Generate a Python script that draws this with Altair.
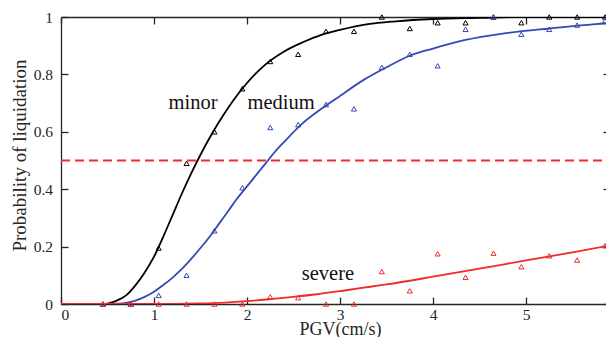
import altair as alt
import pandas as pd

# ---- observed points (triangles) ----
pgv_pts = [0.45, 0.75, 1.05, 1.35, 1.65, 1.95, 2.25, 2.55, 2.85, 3.15,
           3.45, 3.75, 4.05, 4.35, 4.65, 4.95, 5.25, 5.55, 5.85]
minor_pts = [0, 0, 0.195, 0.49, 0.60, 0.75, 0.845, 0.87, 0.95, 0.95,
             1.0, 0.96, 0.98, 0.98, 1.0, 0.98, 1.0, 1.0, 1.0]
medium_pts = [0, 0, 0.03, 0.10, 0.255, 0.405, 0.615, 0.625, 0.695, 0.68,
              0.825, 0.87, 0.83, 0.957, 1.0, 0.94, 0.957, 0.972, 0.987]
severe_pts = [0, 0, 0, 0, 0, 0, 0.025, 0.022, 0, 0,
              0.113, 0.046, 0.175, 0.093, 0.177, 0.13, 0.168, 0.153, 0.203]

# ---- fitted curves ----
minor_cx = [0, 0.45, 0.6, 0.7, 0.8, 0.9, 1.0, 1.1, 1.2, 1.3, 1.4, 1.5, 1.6, 1.7,
            1.8, 1.9, 2.0, 2.2, 2.4, 2.6, 2.8, 3.0, 3.3, 3.6, 4.0, 4.5, 5.0, 6.0]
minor_cy = [0, 0, 0.012, 0.03, 0.065, 0.11, 0.165, 0.235, 0.31, 0.385, 0.455, 0.52,
            0.58, 0.635, 0.685, 0.73, 0.77, 0.835, 0.88, 0.912, 0.938, 0.955, 0.975,
            0.985, 0.993, 0.997, 1.0, 1.0]

medium_cx = [0, 0.5, 0.6, 0.7, 0.8, 0.9, 1.0, 1.1, 1.2, 1.3, 1.4, 1.5, 1.6, 1.7, 1.8,
             1.9, 2.0, 2.1, 2.2, 2.3, 2.4, 2.6, 2.8, 3.0, 3.25, 3.5, 3.75, 4.0, 4.35,
             4.75, 5.25, 5.75, 6.0]
medium_cy = [0, 0, 0.001, 0.004, 0.012, 0.025, 0.043, 0.066, 0.092, 0.122, 0.157,
             0.195, 0.235, 0.28, 0.325, 0.37, 0.41, 0.45, 0.49, 0.53, 0.565, 0.63,
             0.68, 0.725, 0.78, 0.825, 0.865, 0.89, 0.92, 0.942, 0.96, 0.975, 0.98]

severe_cx = [0, 1.0, 1.5, 1.8, 2.0, 2.25, 2.5, 2.75, 3.0, 3.5, 4.0, 4.5, 5.0, 5.5, 6.0]
severe_cy = [0, 0, 0.002, 0.006, 0.01, 0.017, 0.025, 0.034, 0.045, 0.068, 0.095,
             0.123, 0.152, 0.18, 0.21]

threshold = 0.5

labels = ["minor", "medium", "severe"]
label_x = [1.42, 2.366, 2.87]
label_y = [0.68, 0.68, 0.084]

x_ticks = [0, 1, 2, 3, 4, 5]
y_ticks = [0, 0.2, 0.4, 0.6, 0.8, 1.0]

colors = {"minor": "#000000", "medium": "#3449b3", "severe": "#f02a2a"}

FONT = "Liberation Serif"
AX = "#262626"
PLOT_W = 545
X_MAX = PLOT_W / 93.0

xscale = alt.Scale(domain=[0, X_MAX], nice=False, zero=False)
yscale = alt.Scale(domain=[0, 1], nice=False)

common = dict(grid=False, domainColor=AX, domainWidth=1.3, tickColor=AX, tickWidth=1.3,
              labelFont=FONT, titleFont=FONT, labelColor=AX, titleColor=AX,
              titleFontWeight="normal", labelFontSize=15.5)

x_axis = alt.Axis(values=x_ticks, title="PGV(cm/s)",
                  tickSize={"expr": "-7"}, labelPadding=10.5,
                  titleX=279, titleY=30, titleBaseline="alphabetic",
                  titleFontSize=18, **common)
y_axis = alt.Axis(values=y_ticks, format="~g",
                  title="Probability of liquidation",
                  tickSize={"expr": "-7"}, labelPadding=15.5,
                  titleX=-41.5, titleY=138, titleBaseline="middle",
                  titleFontSize=19, **common)
x_top = alt.Axis(values=x_ticks, orient="top", labels=False, title=None,
                 tickSize={"expr": "-7"}, **common)
y_right = alt.Axis(values=y_ticks, orient="right", labels=False,
                   title=None, domain=False, tickSize={"expr": "-3"}, **common)

series = [("minor", minor_pts, minor_cx, minor_cy),
          ("medium", medium_pts, medium_cx, medium_cy),
          ("severe", severe_pts, severe_cx, severe_cy)]

layers = []
# threshold dashed line carries the top/right axes
thr_df = pd.DataFrame({"pgv": [0, 6], "p": [threshold, threshold]})
layers.append(
    alt.Chart(thr_df).mark_line(color="#f02a2a", strokeDash=[9, 5], strokeWidth=1.8,
                                clip=True)
    .encode(x=alt.X("pgv:Q", scale=xscale, axis=x_top),
            y=alt.Y("p:Q", scale=yscale, axis=y_right))
)

first = True
for name, pts, cx, cy in series:
    cdf = pd.DataFrame({"pgv": cx, "p": cy})
    pdf = pd.DataFrame({"pgv": pgv_pts, "p": pts})
    xa = x_axis if first else None
    ya = y_axis if first else None
    line = alt.Chart(cdf).mark_line(color=colors[name], strokeWidth=1.8, clip=True,
                                    interpolate="monotone").encode(
        x=alt.X("pgv:Q", scale=xscale, axis=xa),
        y=alt.Y("p:Q", scale=yscale, axis=ya))
    pts_mark = alt.Chart(pdf).mark_point(shape="triangle-up", size=26, filled=False,
                                         color=colors[name], strokeWidth=1,
                                         opacity=1).encode(
        x=alt.X("pgv:Q", scale=xscale, axis=None),
        y=alt.Y("p:Q", scale=yscale, axis=None))
    layers.extend([line, pts_mark])
    first = False

ann_df = pd.DataFrame({"label": labels, "pgv": label_x, "p": label_y})
layers.append(
    alt.Chart(ann_df).mark_text(font=FONT, fontSize=20.5, color="#111111",
                                baseline="alphabetic", align="center")
    .encode(x=alt.X("pgv:Q", scale=xscale, axis=None),
            y=alt.Y("p:Q", scale=yscale, axis=None),
            text="label:N")
)

chart = alt.layer(*layers).resolve_scale(x="shared", y="shared").resolve_axis(
    x="independent", y="independent"
).properties(
    width=PLOT_W, height=287,
    autosize=alt.AutoSizeParams(type="none"),
    padding={"left": 53, "top": 9, "right": 0, "bottom": 33},
).configure_view(stroke=None)

chart.save("out.html", embed_options={"renderer": "svg", "actions": False})
